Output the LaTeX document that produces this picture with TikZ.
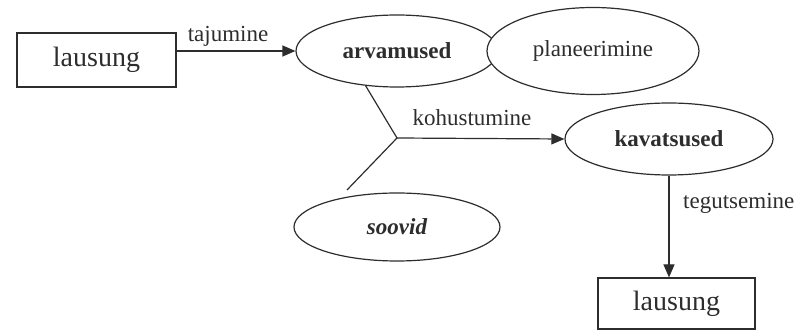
\documentclass[tikz,border=0pt]{standalone}
\usepackage{fontspec}
\setmainfont{Liberation Serif}
\usetikzlibrary{shapes.geometric,arrows.meta}
\definecolor{ink}{RGB}{45,45,45}
\begin{document}
\begin{tikzpicture}[x=1pt,y=-1pt,
  ink/.style={draw=ink,line width=1.2pt},
  labeltext/.style={font=\fontsize{23}{26}\selectfont,text=ink,inner sep=0pt},
  boxnode/.style={ink,rectangle,inner sep=0pt,fill=white,
    font=\fontsize{28}{32}\selectfont,text=ink},
  ovalnode/.style={ink,ellipse,inner sep=0pt,fill=white,
    font=\fontsize{23}{26}\selectfont,text=ink},
  arr/.style={ink,-{Triangle[length=13pt,width=11pt]}}]
\useasboundingbox (0,0) rectangle (796,331);

% nodes
\node[boxnode,minimum width=159pt,minimum height=54pt] (src) at (96.5,60) {\raisebox{-5pt}{lausung}};
\node[ovalnode,minimum width=202pt,minimum height=72pt] (arv) at (397,51) {\bfseries arvamused};
\node[ovalnode,minimum width=212pt,minimum height=87pt] (plan) at (593,51) {\raisebox{3pt}{planeerimine}};
\node[ovalnode,minimum width=208pt,minimum height=72pt] (kav) at (669,139) {\bfseries kavatsused};
\node[ovalnode,minimum width=206pt,minimum height=68pt] (soov) at (397,227) {\raisebox{-3pt}{\bfseries\itshape soovid}};
\node[boxnode,minimum width=157pt,minimum height=51pt] (dst) at (676.5,303.5) {\raisebox{-2pt}{lausung}};

% junction where beliefs and desires meet
\coordinate (j) at (397,138);
\coordinate (sv) at (347,190);

% connectors
\draw[arr] (src.east |- arv.west) -- (arv.west);
\draw[ink] (arv.228) -- (j) -- (sv);
\draw[arr] (j) -- (kav.west);
\draw[arr] (kav.south) -- (kav.south |- dst.north);

% connector labels
\node[labeltext,anchor=base] (l1) at (228,42) {tajumine};
\node[labeltext,anchor=base] (l2) at (472,126) {kohustumine};
\node[labeltext,anchor=base west] (l3) at (683,209) {tegutsemine};
\end{tikzpicture}
\end{document}
